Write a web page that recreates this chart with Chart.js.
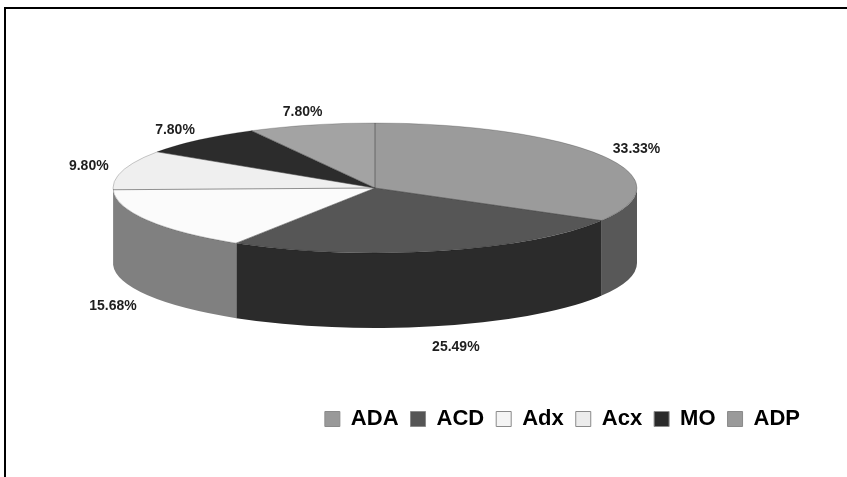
<!DOCTYPE html>
<html>
<head>
<meta charset="utf-8">
<script src="https://cdn.jsdelivr.net/npm/chart.js@4/dist/chart.umd.min.js"></script>
<style>
  html, body { margin: 0; padding: 0; background: #fff; overflow: hidden; }
  #chart { display: block; }
</style>
</head>
<body>
<canvas id="chart" width="847" height="477"></canvas>
<script>
const categories = ["ADA", "ACD", "Adx", "Acx", "MO", "ADP"];
const shares = [33.33, 25.49, 15.68, 9.80, 7.80, 7.80];
const shareLabels = ["33.33%", "25.49%", "15.68%", "9.80%", "7.80%", "7.80%"];

const topColors = ["#9b9b9b", "#565656", "#fbfbfb", "#efefef", "#2c2c2c", "#a3a3a3"];
const sideColors = ["#585858", "#2b2b2b", "#808080", "#a8a8a8", "#1a1a1a", "#6a6a6a"];
const legendColors = ["#999999", "#555555", "#f4f4f4", "#ececec", "#2a2a2a", "#9a9a9a"];

// ellipse used for the tilted disc
const disc = { cx: 375, cy: 188, rx: 262, ry: 65, depth: 75 };

function ellipsePoint(angle, fx = 1, fy = 1) {
  return {
    x: disc.cx + disc.rx * fx * Math.cos(angle),
    y: disc.cy + disc.ry * fy * Math.sin(angle)
  };
}

// frame around the plot, only its top and left edges fall inside the canvas
const frame = {
  id: "frame",
  beforeDraw(chart) {
    const ctx = chart.ctx;
    ctx.save();
    ctx.strokeStyle = "#000";
    ctx.lineWidth = 2;
    ctx.beginPath();
    ctx.moveTo(5, chart.height);
    ctx.lineTo(5, 8);
    ctx.lineTo(chart.width, 8);
    ctx.stroke();
    ctx.restore();
  }
};

// side walls are drawn first, then the tops are squashed onto the ellipse
const pie3d = {
  id: "pie3d",
  beforeDatasetsDraw(chart) {
    const ctx = chart.ctx;
    const arcs = chart.getDatasetMeta(0).data;

    arcs.forEach((arc, i) => {
      // only the front half of the wall can be seen
      const lo = Math.max(arc.startAngle, 0);
      const hi = Math.min(arc.endAngle, Math.PI);
      if (hi <= lo) return;
      ctx.save();
      ctx.beginPath();
      ctx.ellipse(disc.cx, disc.cy, disc.rx, disc.ry, 0, lo, hi);
      ctx.ellipse(disc.cx, disc.cy + disc.depth, disc.rx, disc.ry, 0, hi, lo, true);
      ctx.closePath();
      ctx.fillStyle = sideColors[i];
      ctx.fill();
      ctx.restore();
    });

    const first = arcs[0];
    const r = first.outerRadius;
    ctx.save();
    ctx.translate(disc.cx, disc.cy);
    ctx.scale(disc.rx / r, disc.ry / r);
    ctx.translate(-first.x, -first.y);
  },
  afterDatasetsDraw(chart) {
    const ctx = chart.ctx;
    ctx.restore();
    const arcs = chart.getDatasetMeta(0).data;

    // slice edges on the top face
    ctx.save();
    ctx.strokeStyle = "rgba(60,60,60,0.55)";
    ctx.lineWidth = 1;
    arcs.forEach((arc) => {
      const p = ellipsePoint(arc.startAngle);
      ctx.beginPath();
      ctx.moveTo(disc.cx, disc.cy);
      ctx.lineTo(p.x, p.y);
      ctx.stroke();
    });
    ctx.strokeStyle = "rgba(0,0,0,0.2)";
    ctx.beginPath();
    ctx.ellipse(disc.cx, disc.cy, disc.rx, disc.ry, 0, 0, Math.PI * 2);
    ctx.stroke();
    ctx.restore();

    // percentage labels outside each slice
    ctx.save();
    ctx.font = "bold 14px 'Liberation Sans', Arial, sans-serif";
    ctx.fillStyle = "#1e1e1e";
    ctx.textAlign = "center";
    ctx.textBaseline = "middle";
    arcs.forEach((arc, i) => {
      const mid = (arc.startAngle + arc.endAngle) / 2;
      const p = ellipsePoint(mid, 1.05, 1.05);
      const s = Math.sin(mid);
      const c = Math.cos(mid);
      const w = ctx.measureText(shareLabels[i]).width;
      let y = p.y + 10 * s;
      if (s > 0) y += disc.depth + 8 * s;
      ctx.fillText(shareLabels[i], p.x + (w / 2 + 3) * c + (s > 0.9 ? 8 : 0), y);
    });
    ctx.restore();
  }
};

new Chart(document.getElementById("chart"), {
  type: "pie",
  data: {
    labels: categories,
    datasets: [
      {
        data: shares,
        backgroundColor: topColors,
        borderWidth: 0
      }
    ]
  },
  options: {
    responsive: false,
    animation: false,
    events: [],
    layout: { padding: { left: 20, right: 35, top: 20, bottom: 37 } },
    plugins: {
      tooltip: { enabled: false },
      legend: {
        position: "bottom",
        align: "end",
        labels: {
          color: "#222",
          boxWidth: 15,
          boxHeight: 15,
          padding: 12,
          font: { family: "'Liberation Sans', Arial, sans-serif", size: 22, weight: "bold" },
          generateLabels: () => categories.map((name, i) => ({
            text: name,
            fillStyle: legendColors[i],
            strokeStyle: "#8a8a8a",
            lineWidth: 1,
            hidden: false,
            index: i
          }))
        }
      }
    }
  },
  plugins: [frame, pie3d]
});
</script>
</body>
</html>
